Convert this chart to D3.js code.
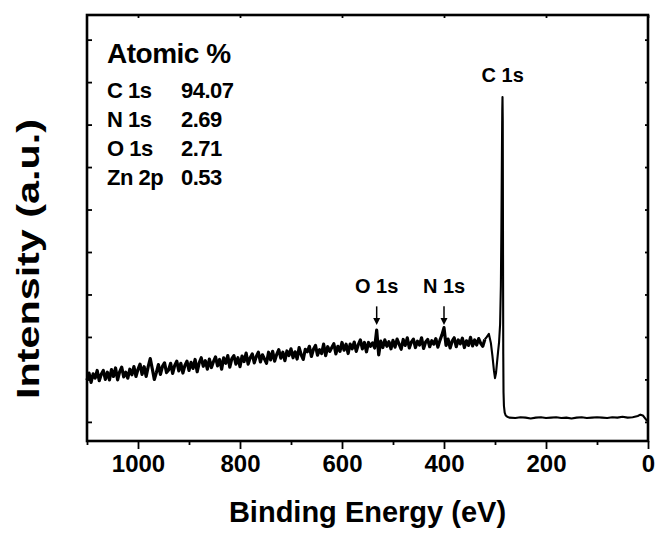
<!DOCTYPE html>
<html>
<head>
<meta charset="utf-8">
<script src="https://cdn.jsdelivr.net/npm/d3@7"></script>
<style>
body{margin:0;background:#fff;}
text{font-family:"Liberation Sans",Arial,sans-serif;font-weight:bold;fill:#000;}
</style>
</head>
<body>
<div id="chart"></div>
<script>
// survey spectrum, noisy part sampled every 4 eV from 1100 eV down to 320 eV
var surveyStart = 1100;
var surveyStep = 4;
var surveyIntensity = [
    0.98,1.15,0.93,1.13,1.03,1.21,0.97,1.12,1.21,1.00,
    1.17,0.99,1.23,1.07,1.27,0.99,1.18,1.29,1.06,1.17,
    1.03,1.24,1.11,1.30,1.07,1.24,1.36,1.12,1.30,1.07,
    1.30,1.49,1.25,1.00,1.16,1.35,1.12,1.31,1.39,1.16,
    1.22,1.38,1.14,1.33,1.43,1.20,1.38,1.15,1.33,1.43,
    1.21,1.40,1.26,1.47,1.18,1.39,1.51,1.31,1.44,1.24,
    1.48,1.28,1.42,1.53,1.32,1.47,1.24,1.51,1.38,1.56,
    1.29,1.49,1.56,1.36,1.51,1.30,1.55,1.42,1.62,1.36,
    1.51,1.60,1.39,1.54,1.64,1.41,1.58,1.48,1.38,1.64,
    1.46,1.66,1.43,1.59,1.70,1.50,1.64,1.44,1.67,1.56,
    1.72,1.51,1.65,1.48,1.75,1.58,1.47,1.71,1.65,1.78,
    1.54,1.71,1.80,1.57,1.70,1.61,1.83,1.56,1.77,1.66,
    1.75,1.84,1.60,1.78,1.66,1.87,1.69,1.83,1.61,1.83,
    1.72,1.88,1.66,1.82,1.93,1.72,1.87,1.65,1.87,1.78,
    1.86,1.74,2.16,1.58,1.90,1.75,1.93,1.78,1.89,1.72,
    1.92,1.76,1.95,1.83,1.71,1.94,1.80,1.98,1.74,1.88,
    1.95,1.75,1.90,1.81,1.98,1.73,1.88,1.94,1.77,1.91,
    1.83,1.96,1.76,1.92,2.05,2.22,1.80,1.95,1.74,1.90,
    1.98,1.77,1.93,1.84,1.97,1.75,1.91,1.80,1.99,1.79,
    1.93,1.81,1.96,1.85,1.78,1.94
];

// C 1s region and flat tail down to 0 eV
var tailEnergy = [316,312,308,305,302,300,298,296,294,292,290,288.5,287.5,286.5,285.8,285.3,284.8,284.3,283.8,283.3,282.5,281,279,276,272,
    260,250,240,230,220,210,200,190,180,170,160,150,140,130,120,110,100,90,80,70,60,50,40,30,20,15,10,6,3,0];
var tailIntensity = [2.00,2.07,1.85,1.55,1.20,1.03,1.15,1.40,1.65,1.88,2.30,3.20,4.50,6.20,7.30,7.65,7.10,4.20,1.60,0.70,0.38,0.22,0.15,0.12,0.10,
    0.09,0.11,0.10,0.08,0.10,0.11,0.09,0.10,0.11,0.09,0.10,0.08,0.10,0.11,0.09,0.10,0.11,0.10,0.09,0.11,0.10,0.12,0.10,0.11,0.14,0.17,0.15,0.09,0.04,0.02];

var majorTicks = [1000,800,600,400,200,0];
var minorTicks = [1100,900,700,500,300,100];
var yTicks = [0,1,2,3,4,5,6,7,8,9];

var peakNames = ["O 1s","N 1s"];
var peakEnergy = [532,400];
var mainPeakName = "C 1s";
var mainPeakEnergy = 285;

var tableTitle = "Atomic %";
var elements = ["C 1s","N 1s","O 1s","Zn 2p"];
var atomicPercent = ["94.07","2.69","2.71","0.53"];

function DrawSpectrum(){
    var margin = {top:15,right:11,bottom:95,left:87};
    var width = 561;
    var height = 426;

    var survey = surveyIntensity.map(function(v,i){ return [surveyStart - i*surveyStep, v]; });
    var tail = [survey[survey.length-1]];
    tailEnergy.forEach(function(e,i){ tail.push([e, tailIntensity[i]]); });

    var xScale = d3.scaleLinear().domain([1100,0]).range([0,width]);
    var yScale = d3.scaleLinear().domain([-0.45,9.58]).range([height,0]);

    var svg = d3.select("#chart").append("svg")
        .attr("width", 659)
        .attr("height", 536)
        .append("g")
        .attr("transform","translate("+margin.left+","+margin.top+")");

    // ticks
    var xMajor = d3.axisBottom(xScale).tickValues(majorTicks).tickSize(8).tickFormat(d3.format("d"));
    var xMinor = d3.axisBottom(xScale).tickValues(minorTicks).tickSize(4).tickFormat("");
    var xTop = d3.axisTop(xScale).tickValues(majorTicks).tickSize(-3).tickFormat("");
    var yLeft = d3.axisLeft(yScale).tickValues(yTicks).tickSize(-5).tickFormat("");
    var yRight = d3.axisRight(yScale).tickValues(yTicks).tickSize(-3).tickFormat("");

    var gx = svg.append("g").attr("transform","translate(0,"+height+")").call(xMajor);
    gx.selectAll("text")
        .attr("y",31)
        .attr("dy",null)
        .style("font-size","24px");
    svg.append("g").attr("transform","translate(0,"+height+")").call(xMinor);
    svg.append("g").call(xTop);
    svg.append("g").call(yLeft);
    svg.append("g").attr("transform","translate("+width+",0)").call(yRight);
    svg.selectAll(".domain").remove();
    svg.selectAll(".tick line").attr("stroke","#000").attr("stroke-width",1.8);

    svg.append("rect")
        .attr("width",width)
        .attr("height",height)
        .attr("fill","none")
        .attr("stroke","#000")
        .attr("stroke-width",2.6);

    // spectrum: noisy survey drawn heavier, peak and tail thinner
    var line = d3.line()
        .x(function(d){ return xScale(d[0]); })
        .y(function(d){ return yScale(d[1]); });

    svg.append("path")
        .datum(survey)
        .attr("fill","none")
        .attr("stroke","#000")
        .attr("stroke-width",3.2)
        .attr("stroke-linejoin","round")
        .attr("d",line);

    svg.append("path")
        .datum(tail)
        .attr("fill","none")
        .attr("stroke","#000")
        .attr("stroke-width",2.1)
        .attr("stroke-linejoin","round")
        .attr("d",line);

    // peak labels with arrows
    peakNames.forEach(function(name,i){
        var px = xScale(peakEnergy[i]);
        svg.append("text")
            .attr("x",px)
            .attr("y",yScale(3.03))
            .attr("text-anchor","middle")
            .style("font-size","20px")
            .text(name);
        svg.append("line")
            .attr("x1",px).attr("x2",px)
            .attr("y1",yScale(2.72)).attr("y2",yScale(2.40))
            .attr("stroke","#000")
            .attr("stroke-width",1.5);
        var tip = yScale(2.28);
        svg.append("path")
            .attr("d","M"+(px-3.5)+","+(tip-7)+"L"+(px+3.5)+","+(tip-7)+"L"+px+","+tip+"Z")
            .attr("fill","#000");
    });

    svg.append("text")
        .attr("x",xScale(mainPeakEnergy))
        .attr("y",yScale(8.0))
        .attr("text-anchor","middle")
        .style("font-size","20px")
        .text(mainPeakName);

    // composition table
    svg.append("text")
        .attr("x",20)
        .attr("y",48)
        .style("font-size","28px")
        .style("letter-spacing","-0.5px")
        .text(tableTitle);

    elements.forEach(function(el,i){
        svg.append("text")
            .attr("x",20)
            .attr("y",83 + i*29)
            .style("font-size","22px")
            .style("letter-spacing","-0.5px")
            .text(el);
        svg.append("text")
            .attr("x",94)
            .attr("y",83 + i*29)
            .style("font-size","22px")
            .style("letter-spacing","-0.5px")
            .text(atomicPercent[i]);
    });

    // axis titles
    svg.append("text")
        .attr("x",width/2)
        .attr("y",height+81)
        .attr("text-anchor","middle")
        .style("font-size","29px")
        .text("Binding Energy (eV)");

    svg.append("text")
        .attr("transform","translate(-48,"+(height/2+31)+") rotate(-90)")
        .attr("text-anchor","middle")
        .attr("textLength",280)
        .attr("lengthAdjust","spacingAndGlyphs")
        .style("font-size","31px")
        .text("Intensity (a.u.)");
}

DrawSpectrum();
</script>
</body>
</html>
